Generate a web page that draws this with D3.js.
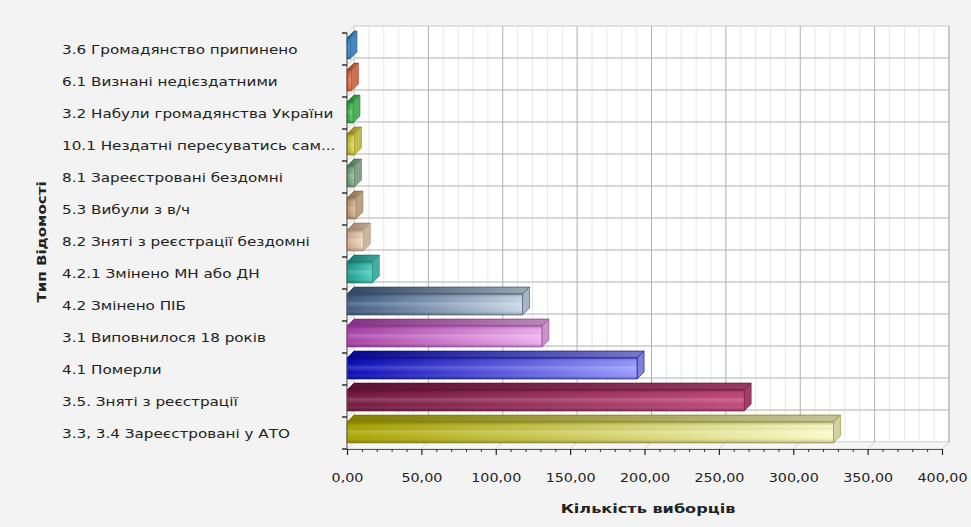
<!DOCTYPE html>
<html><head><meta charset="utf-8">
<script src="https://cdn.jsdelivr.net/npm/d3@7"></script>
<style>
html,body{margin:0;padding:0;background:#f3f3f3;}
svg{display:block;}
text{font-family:"DejaVu Sans",Verdana,sans-serif;fill:#222;}
</style></head>
<body>
<svg id="chart" width="971" height="527"></svg>
<script>
const categories = [
  "3.6 Громадянство припинено",
  "6.1 Визнані недієздатними",
  "3.2 Набули громадянства України",
  "10.1 Нездатні пересуватись сам...",
  "8.1 Зареєстровані бездомні",
  "5.3 Вибули з в/ч",
  "8.2 Зняті з реєстрації бездомні",
  "4.2.1 Змінено МН або ДН",
  "4.2 Змінено ПІБ",
  "3.1 Виповнилося 18 років",
  "4.1 Померли",
  "3.5. Зняті з реєстрації",
  "3.3, 3.4 Зареєстровані у АТО"
];
const values = [2, 3, 4, 5, 5, 6, 11, 17, 118, 131, 195, 267, 327];
const darkColors  = ["#1f6fb0","#cc4a28","#2a9a3a","#b0a820","#5a8a6a","#b08860","#d0a888","#1a9a8a","#3e5a80","#a840a8","#0a0ab8","#74183f","#a8a400"];
const lightColors = ["#5aa0e0","#f08a60","#60d070","#e8e060","#a0c0a0","#e0c0a0","#f0d8c0","#50d0c0","#c8d8e8","#f0b0f0","#9a9aff","#c24a7a","#fafac8"];
const xTicks = [0, 50, 100, 150, 200, 250, 300, 350, 400];
const xMinorStep = 10;
const xTitle = "Кількість виборців";
const yTitle = "Тип Відомості";

const svg = d3.select("#chart");
const D = 7; // 3D depth offset
const x = d3.scaleLinear().domain([0, 400]).range([347, 942]);
const y = d3.scaleBand().domain(categories).range([33, 449]).padding(0);
const y0 = 33, y1 = 449;
const fmt = v => d3.format(".2f")(v).replace(".", ",");
const defs = svg.append("defs");

// back wall
svg.append("rect").attr("x", x(0) + D).attr("y", y0 - D)
  .attr("width", x(400) - x(0)).attr("height", y1 - y0)
  .attr("fill", "#ffffff").attr("stroke", "#c8c8c8");
// left wall
svg.append("polygon")
  .attr("points", [[x(0), y0], [x(0) + D, y0 - D], [x(0) + D, y1 - D], [x(0), y1]].join(" "))
  .attr("fill", "#fafafa").attr("stroke", "#d8d8d8");
// floor
svg.append("polygon")
  .attr("points", [[x(0), y1], [x(0) + D, y1 - D], [x(400) + D, y1 - D], [x(400), y1]].join(" "))
  .attr("fill", "#f6f6f6").attr("stroke", "#d8d8d8");

// minor vertical gridlines
const minor = d3.range(0, 401, xMinorStep).filter(v => v % 50 !== 0);
svg.append("g").selectAll("line").data(minor).join("line")
  .attr("x1", d => x(d) + D).attr("x2", d => x(d) + D)
  .attr("y1", y0 - D).attr("y2", y1 - D)
  .attr("stroke", "#e8e8e8").attr("stroke-width", 1);
// major vertical gridlines
svg.append("g").selectAll("line").data(xTicks.slice(1)).join("line")
  .attr("x1", d => x(d) + D).attr("x2", d => x(d) + D)
  .attr("y1", y0 - D).attr("y2", y1 - D)
  .attr("stroke", "#b0b0b0").attr("stroke-width", 1);
// floor slanted lines
svg.append("g").selectAll("line").data(xTicks).join("line")
  .attr("x1", d => x(d)).attr("x2", d => x(d) + D)
  .attr("y1", y1).attr("y2", y1 - D)
  .attr("stroke", "#d0d0d0");
// horizontal gridlines at band boundaries
const bounds = categories.map(c => y(c)).concat([y1]);
svg.append("g").selectAll("line").data(bounds.slice(1, -1)).join("line")
  .attr("x1", x(0) + D).attr("x2", x(400) + D)
  .attr("y1", d => d - D).attr("y2", d => d - D)
  .attr("stroke", "#b0b0b0");
svg.append("g").selectAll("line").data(bounds.slice(1, -1)).join("line")
  .attr("x1", x(0)).attr("x2", x(0) + D)
  .attr("y1", d => d).attr("y2", d => d - D)
  .attr("stroke", "#d0d0d0");

// bars
const faceTop = 5, faceH = 21;
categories.forEach((c, i) => {
  const g1 = defs.append("linearGradient").attr("id", "h" + i).attr("x1", "0").attr("x2", "1").attr("y1", "0").attr("y2", "0");
  g1.append("stop").attr("offset", "0").attr("stop-color", darkColors[i]);
  g1.append("stop").attr("offset", "1").attr("stop-color", lightColors[i]);
});
const gl = defs.append("linearGradient").attr("id", "gloss").attr("x1", "0").attr("x2", "0").attr("y1", "0").attr("y2", "1");
[[0, "#000", 0.25], [0.18, "#000", 0.0], [0.45, "#fff", 0.18], [0.7, "#fff", 0.0], [1, "#000", 0.3]]
  .forEach(s => gl.append("stop").attr("offset", s[0]).attr("stop-color", s[1]).attr("stop-opacity", s[2]));

const bars = svg.append("g").selectAll("g").data(categories).join("g");
bars.each(function(c, i) {
  const g = d3.select(this);
  const bx0 = x(0), bx1 = x(values[i]);
  const by0 = y(c) + faceTop, by1 = by0 + faceH;
  g.append("polygon")
    .attr("points", [[bx0, by0], [bx1, by0], [bx1 + D, by0 - D], [bx0 + D, by0 - D]].join(" "))
    .attr("fill", `url(#h${i})`).attr("stroke", d3.color(darkColors[i]).darker(0.6)).attr("stroke-width", 0.6);
  g.append("polygon")
    .attr("points", [[bx0, by0], [bx1, by0], [bx1 + D, by0 - D], [bx0 + D, by0 - D]].join(" "))
    .attr("fill", "#000").attr("opacity", 0.22);
  g.append("polygon")
    .attr("points", [[bx1, by0], [bx1 + D, by0 - D], [bx1 + D, by1 - D], [bx1, by1]].join(" "))
    .attr("fill", d3.color(lightColors[i]).darker(0.5)).attr("stroke", d3.color(darkColors[i]).darker(0.4)).attr("stroke-width", 0.6);
  g.append("rect").attr("x", bx0).attr("y", by0).attr("width", Math.max(0, bx1 - bx0)).attr("height", faceH)
    .attr("fill", `url(#h${i})`);
  g.append("rect").attr("x", bx0).attr("y", by0).attr("width", Math.max(0, bx1 - bx0)).attr("height", faceH)
    .attr("fill", "url(#gloss)").attr("stroke", d3.color(darkColors[i]).darker(0.3)).attr("stroke-width", 0.6);
});

// left axis
svg.append("line").attr("x1", x(0)).attr("x2", x(0)).attr("y1", y0).attr("y2", y1).attr("stroke", "#555");
svg.append("g").selectAll("line").data(bounds).join("line")
  .attr("x1", x(0) - 5).attr("x2", x(0)).attr("y1", d => d).attr("y2", d => d)
  .attr("stroke", "#222").attr("stroke-width", 1.4);
svg.append("g").selectAll("text").data(categories).join("text")
  .attr("transform", d => `translate(62,${y(d) + y.bandwidth() / 2}) scale(1.17,1)`)
  .attr("dominant-baseline", "central")
  .attr("font-size", 13).text(d => d);

// bottom axis
const axB = d3.axisBottom(x).tickValues(xTicks).tickSize(6).tickPadding(18).tickFormat(fmt);
const gB = svg.append("g").attr("transform", `translate(0,${y1})`).call(axB);
gB.select(".domain").attr("stroke", "#555");
gB.selectAll(".tick line").attr("stroke", "#222").attr("stroke-width", 1.2);
gB.selectAll("text").attr("font-size", 13).attr("fill", "#222")
  .attr("transform", "scale(1.1,1)")
  .style("font-family", '"DejaVu Sans",Verdana,sans-serif');
const axM = d3.axisBottom(x).tickValues(minor).tickSize(3).tickFormat("");
const gM = svg.append("g").attr("transform", `translate(0,${y1})`).call(axM);
gM.select(".domain").remove();
gM.selectAll(".tick line").attr("stroke", "#333");

// titles
svg.append("text").attr("transform", "translate(648,508) scale(1.24,1)")
  .attr("text-anchor", "middle").attr("dominant-baseline", "central")
  .attr("font-size", 13).attr("font-weight", "bold").text(xTitle);
svg.append("text").attr("transform", "translate(41,242) rotate(-90) scale(1.16,1)")
  .attr("text-anchor", "middle").attr("dominant-baseline", "central")
  .attr("font-size", 13).attr("font-weight", "bold").text(yTitle);
</script>
</body></html>
